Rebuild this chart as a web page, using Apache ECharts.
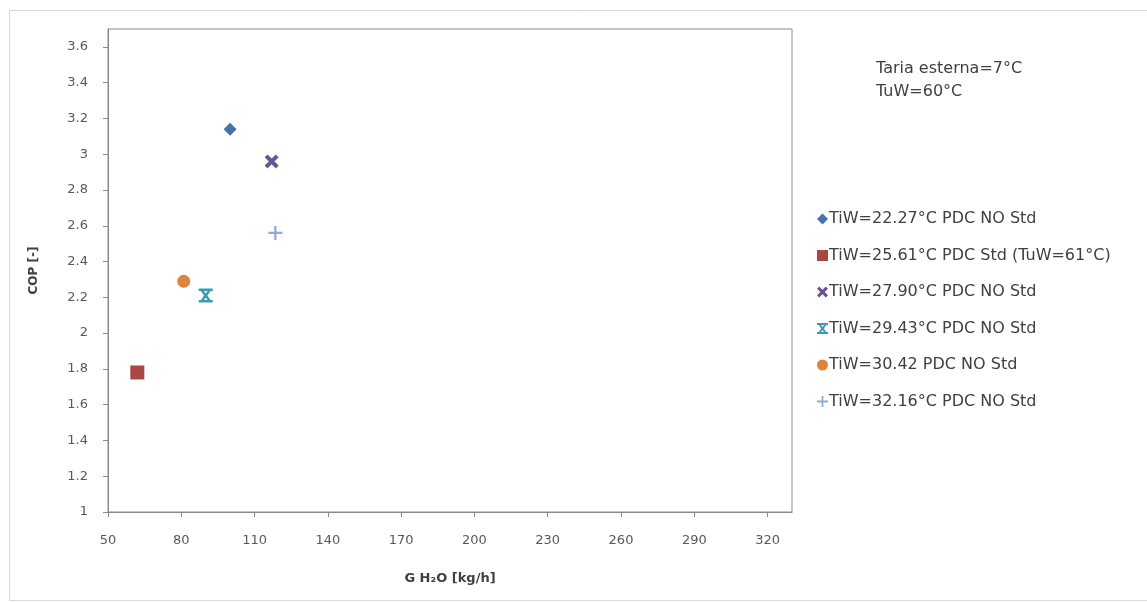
<!DOCTYPE html>
<html>
<head>
<meta charset="utf-8">
<script src="https://cdn.jsdelivr.net/npm/echarts@6/dist/echarts.min.js"></script>
<style>
html,body{margin:0;padding:0;background:#fff;}
#chart{width:1147px;height:603px;}
</style>
</head>
<body>
<div id="chart"></div>
<script>
var seriesNames = [
  "TiW=22.27°C PDC NO Std",
  "TiW=25.61°C PDC Std (TuW=61°C)",
  "TiW=27.90°C PDC NO Std",
  "TiW=29.43°C PDC NO Std",
  "TiW=30.42 PDC NO Std",
  "TiW=32.16°C PDC NO Std"
];
var flowValues = [100, 62, 117, 90, 81, 118.5];   // G H2O [kg/h]
var copValues = [3.14, 1.78, 2.96, 2.21, 2.29, 2.56]; // COP [-]
var annotationLines = ["Taria esterna=7°C", "TuW=60°C"];
var xAxisTitle = "G H₂O [kg/h]";
var yAxisTitle = "COP [-]";

var colors = ["#4572A7", "#AA4643", "#6A5392", "#3C9AAF", "#DB843D", "#93A9CF"];
var symbols = [
  "diamond",
  "rect",
  "path://M2,0 L5,3 L8,0 L10,2 L7,5 L10,8 L8,10 L5,7 L2,10 L0,8 L3,5 L0,2 Z",
  "path://M0,0 H10 V1.8 H0 Z M0,8.2 H10 V10 H0 Z M1,1 L3,1 L5,3.6 L7,1 L9,1 L6.2,5 L9,9 L7,9 L5,6.4 L3,9 L1,9 L3.8,5 Z",
  "circle",
  "path://M4.2,0 H5.8 V4.2 H10 V5.8 H5.8 V10 H4.2 V5.8 H0 V4.2 H4.2 Z"
];
var sizes = [13, 14, 14, 14, 13, 14];

var series = seriesNames.map(function (n, i) {
  return {
    name: n,
    type: "scatter",
    data: [[flowValues[i], copValues[i]]],
    symbol: symbols[i],
    symbolSize: sizes[i],
    itemStyle: { color: colors[i], opacity: 1 }
  };
});

var chart = echarts.init(document.getElementById("chart"));
chart.setOption({
  animation: false,
  backgroundColor: "#fff",
  textStyle: { fontFamily: "DejaVu Sans" },
  grid: {
    left: 108, top: 29, right: 355, bottom: 91,
    show: true, borderColor: "#8a8a8a", borderWidth: 1
  },
  xAxis: {
    type: "value", min: 50, max: 330, interval: 30,
    name: xAxisTitle, nameLocation: "middle", nameGap: 60,
    nameTextStyle: { fontSize: 13, fontWeight: "bold", color: "#404040", fontFamily: "DejaVu Sans" },
    axisLine: { lineStyle: { color: "#8a8a8a" } },
    axisTick: { show: true, inside: false, length: 5, lineStyle: { color: "#8a8a8a" } },
    axisLabel: { showMaxLabel: false, fontSize: 13, color: "#595959", margin: 22, fontFamily: "DejaVu Sans" },
    splitLine: { show: false }
  },
  yAxis: {
    type: "value", min: 1, max: 3.7, interval: 0.2,
    name: yAxisTitle, nameLocation: "middle", nameGap: 68, nameRotate: 90,
    nameTextStyle: { fontSize: 12, fontWeight: "bold", color: "#404040", fontFamily: "DejaVu Sans" },
    axisLine: { show: true, lineStyle: { color: "#8a8a8a" } },
    axisTick: { show: true, inside: false, length: 5, lineStyle: { color: "#8a8a8a" } },
    axisLabel: {
      showMaxLabel: false, fontSize: 13, color: "#595959", margin: 20, fontFamily: "DejaVu Sans",
      formatter: function (v) { return String(Math.round(v * 10) / 10); }
    },
    splitLine: { show: false }
  },
  legend: {
    orient: "vertical", left: 812, top: 206,
    itemWidth: 11, itemHeight: 11, itemGap: 20.5,
    textStyle: { fontSize: 16, color: "#404040", fontFamily: "DejaVu Sans", padding: [0, 0, 0, -4] },
    data: seriesNames
  },
  graphic: [
    { type: "rect", left: 7, top: 8, shape: { width: 1138, height: 590 },
      style: { fill: "none", stroke: "#d9d9d9", lineWidth: 1 }, silent: true },
    { type: "text", left: 876, top: 57,
      style: { text: annotationLines.join("\n"), fontSize: 16, lineHeight: 23, fill: "#404040", fontFamily: "DejaVu Sans" } }
  ],
  series: series
});
</script>
</body>
</html>
